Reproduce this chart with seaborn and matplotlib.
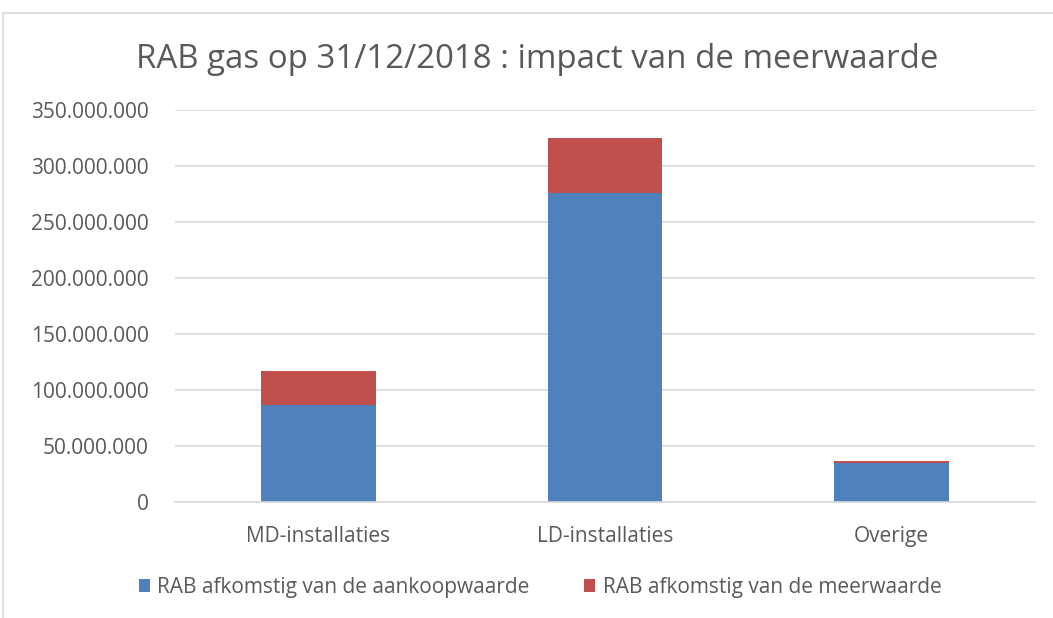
import pandas as pd
import matplotlib.pyplot as plt
import seaborn as sns
from matplotlib.patches import Rectangle
from matplotlib.ticker import FuncFormatter

categories = ["MD-installaties", "LD-installaties", "Overige"]
aankoopwaarde = [86_800_000, 275_500_000, 34_600_000]
meerwaarde = [30_400_000, 49_800_000, 1_600_000]
series_names = ["RAB afkomstig van de aankoopwaarde", "RAB afkomstig van de meerwaarde"]
colors = ["#4F81BD", "#C0504D"]

df = pd.DataFrame({"categorie": categories,
                   "aankoop": aankoopwaarde,
                   "totaal": [a + m for a, m in zip(aankoopwaarde, meerwaarde)]})

sns.set_theme(style="white")
plt.rcParams["font.family"] = ["Open Sans", "DejaVu Sans"]

fig = plt.figure(figsize=(10.53, 6.18), dpi=100)
ax = fig.add_axes([175 / 1053, 1 - 502 / 618, 860 / 1053, 392 / 618])

# stacked: total first (red), blue on top of it from zero
sns.barplot(data=df, x="categorie", y="totaal", color=colors[1], width=0.4,
            saturation=1, ax=ax, label=series_names[1], linewidth=0)
sns.barplot(data=df, x="categorie", y="aankoop", color=colors[0], width=0.4,
            saturation=1, ax=ax, label=series_names[0], linewidth=0)
handles, labels = ax.get_legend_handles_labels()
if ax.get_legend() is not None:
    ax.get_legend().remove()

ax.set_ylim(0, 350_000_000)
ax.set_xlim(-0.5, 2.5)
ax.set_yticks(range(0, 350_000_001, 50_000_000))
ax.yaxis.set_major_formatter(FuncFormatter(lambda v, p: f"{int(v):,}".replace(",", ".")))
ax.grid(axis="y", color="#D9D9D9", linewidth=1.2)
ax.set_axisbelow(True)
for s in ["top", "right", "left"]:
    ax.spines[s].set_visible(False)
ax.spines["bottom"].set_color("#D9D9D9")
ax.spines["bottom"].set_linewidth(1.2)
ax.set_xlabel("")
ax.set_ylabel("")
ax.tick_params(axis="y", length=0, labelsize=15, colors="#595959", pad=19)
ax.tick_params(axis="x", length=0, labelsize=15, colors="#595959", pad=17)

fig.text(0.51, 1 - 59 / 618, "RAB gas op 31/12/2018 : impact van de meerwaarde",
         ha="center", va="center", fontsize=23.8, color="#595959")

order = [labels.index(n) for n in series_names]
fig.legend([handles[i] for i in order], series_names, loc="center",
           bbox_to_anchor=(540 / 1053, 1 - 587 / 618), ncol=2, frameon=False,
           fontsize=15, labelcolor="#595959", handlelength=0.55, handleheight=0.6,
           handletextpad=0.35, columnspacing=2.6)

fig.patches.append(Rectangle((3 / 1053, -0.1), 1.2, 1 - 13 / 618 + 0.1,
                             transform=fig.transFigure, fill=False,
                             edgecolor="#D9D9D9", linewidth=1.2))

fig.savefig("out.png", dpi=100)
